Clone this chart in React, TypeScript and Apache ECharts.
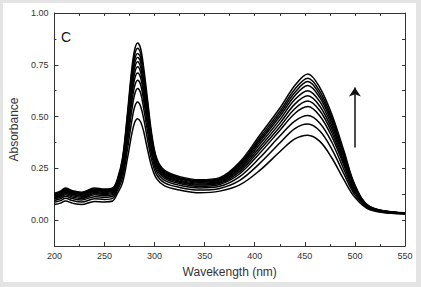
import React, { useEffect, useRef } from "react";
import * as echarts from "echarts";

const wavelengths = [200, 206, 211, 218, 227, 240, 250, 258, 263, 268, 273, 277, 280, 283, 286, 289, 293, 297, 302, 310, 325, 345, 365, 385, 405, 425, 440, 453, 465, 477, 489, 500, 515, 550];

const curve1 = [0.075, 0.082, 0.092, 0.082, 0.075, 0.090, 0.088, 0.092, 0.130, 0.180, 0.300, 0.410, 0.470, 0.490, 0.475, 0.430, 0.340, 0.260, 0.200, 0.165, 0.145, 0.132, 0.140, 0.170, 0.240, 0.330, 0.392, 0.410, 0.380, 0.300, 0.195, 0.110, 0.050, 0.030];
const curve2 = [0.086, 0.094, 0.105, 0.094, 0.087, 0.103, 0.100, 0.105, 0.144, 0.204, 0.344, 0.472, 0.545, 0.570, 0.550, 0.492, 0.388, 0.292, 0.220, 0.180, 0.158, 0.145, 0.153, 0.192, 0.274, 0.372, 0.442, 0.464, 0.430, 0.342, 0.223, 0.122, 0.053, 0.031];
const curve3 = [0.095, 0.103, 0.115, 0.104, 0.097, 0.113, 0.110, 0.115, 0.155, 0.223, 0.379, 0.522, 0.605, 0.635, 0.615, 0.542, 0.426, 0.318, 0.236, 0.192, 0.168, 0.155, 0.163, 0.210, 0.301, 0.406, 0.478, 0.505, 0.468, 0.376, 0.245, 0.132, 0.055, 0.032];
const curve4 = [0.102, 0.110, 0.123, 0.111, 0.104, 0.122, 0.118, 0.123, 0.164, 0.239, 0.408, 0.562, 0.645, 0.675, 0.655, 0.582, 0.458, 0.338, 0.249, 0.202, 0.177, 0.163, 0.172, 0.224, 0.323, 0.433, 0.515, 0.548, 0.503, 0.403, 0.264, 0.139, 0.057, 0.032];
const curve5 = [0.107, 0.116, 0.129, 0.117, 0.110, 0.128, 0.124, 0.129, 0.171, 0.250, 0.428, 0.590, 0.680, 0.710, 0.688, 0.610, 0.479, 0.353, 0.258, 0.209, 0.183, 0.169, 0.178, 0.234, 0.339, 0.450, 0.538, 0.575, 0.528, 0.422, 0.276, 0.145, 0.059, 0.033];
const curve6 = [0.111, 0.120, 0.134, 0.122, 0.115, 0.133, 0.129, 0.134, 0.176, 0.259, 0.445, 0.615, 0.708, 0.740, 0.715, 0.635, 0.498, 0.366, 0.266, 0.215, 0.188, 0.174, 0.183, 0.243, 0.352, 0.467, 0.560, 0.600, 0.550, 0.439, 0.287, 0.150, 0.060, 0.033];
const curve7 = [0.116, 0.125, 0.139, 0.126, 0.119, 0.138, 0.134, 0.139, 0.182, 0.269, 0.463, 0.639, 0.733, 0.765, 0.740, 0.659, 0.518, 0.378, 0.274, 0.221, 0.193, 0.179, 0.188, 0.251, 0.366, 0.484, 0.582, 0.625, 0.572, 0.455, 0.299, 0.154, 0.061, 0.034];
const curve8 = [0.120, 0.129, 0.143, 0.131, 0.124, 0.143, 0.138, 0.143, 0.187, 0.277, 0.478, 0.661, 0.754, 0.785, 0.763, 0.681, 0.534, 0.390, 0.281, 0.226, 0.198, 0.183, 0.193, 0.259, 0.378, 0.500, 0.601, 0.650, 0.591, 0.470, 0.308, 0.159, 0.062, 0.034];
const curve9 = [0.123, 0.132, 0.147, 0.134, 0.127, 0.147, 0.142, 0.147, 0.191, 0.284, 0.491, 0.680, 0.774, 0.805, 0.784, 0.700, 0.549, 0.399, 0.287, 0.230, 0.202, 0.187, 0.197, 0.266, 0.388, 0.513, 0.616, 0.669, 0.606, 0.483, 0.317, 0.162, 0.063, 0.034];
const curve10 = [0.126, 0.136, 0.151, 0.138, 0.131, 0.150, 0.146, 0.151, 0.195, 0.292, 0.505, 0.698, 0.796, 0.830, 0.805, 0.718, 0.563, 0.409, 0.293, 0.235, 0.205, 0.191, 0.200, 0.272, 0.398, 0.525, 0.632, 0.685, 0.622, 0.495, 0.325, 0.166, 0.064, 0.035];
const curve11 = [0.130, 0.140, 0.155, 0.142, 0.135, 0.155, 0.150, 0.155, 0.200, 0.300, 0.520, 0.720, 0.820, 0.855, 0.830, 0.740, 0.580, 0.420, 0.300, 0.240, 0.210, 0.195, 0.205, 0.280, 0.410, 0.540, 0.650, 0.706, 0.640, 0.510, 0.335, 0.170, 0.065, 0.035];

const curves = [curve1, curve2, curve3, curve4, curve5, curve6, curve7, curve8, curve9, curve10, curve11];

const yMajorTicks = [0, 0.25, 0.5, 0.75, 1];
const arrowWavelength = 500;
const arrowFrom = 0.35;
const arrowTo = 0.64;

const FONT = "'Liberation Sans', Arial, sans-serif";
const AXIS_COLOR = "#333";

export default function App() {
  const ref = useRef<HTMLDivElement>(null);
  useEffect(() => {
    if (!ref.current) return;
    const chart = echarts.init(ref.current, undefined, { renderer: "svg" });
    const series: any[] = curves.map((c, idx) => ({
      type: "line",
      xAxisIndex: 0,
      yAxisIndex: 0,
      data: wavelengths.map((w, i) => [w, c[i]]),
      showSymbol: false,
      smooth: 0.35,
      lineStyle: { color: "#000", width: 1.5 },
      silent: true,
      z: 3,
      markLine:
        idx === 0
          ? {
              silent: true,
              symbol: ["none", "arrow"],
              symbolSize: 9,
              lineStyle: { color: "#111", width: 1.5, type: "solid" },
              label: { show: false },
              data: [[{ coord: [arrowWavelength, arrowFrom] }, { coord: [arrowWavelength, arrowTo] }]],
            }
          : undefined,
    }));
    chart.setOption({
      animation: false,
      backgroundColor: "#e4e4e4",
      graphic: [
        {
          type: "rect",
          shape: { x: 3, y: 3, width: 413, height: 279 },
          style: { fill: "#ffffff" },
          silent: true,
          z: -10,
        },
        {
          type: "text",
          x: 61,
          y: 37,
          style: { text: "C", fontSize: 14, fontFamily: FONT, fill: "#111", verticalAlign: "middle" },
          silent: true,
          z: 10,
        },
      ],
      grid: { left: 49, right: 16, top: 13, bottom: 41, containLabel: false },
      xAxis: [
        {
          type: "value",
          position: "bottom",
          min: 200,
          max: 550,
          interval: 50,
          axisLine: { show: true, onZero: false, lineStyle: { color: AXIS_COLOR, width: 1 } },
          axisTick: { show: true, inside: true, length: 4, lineStyle: { color: AXIS_COLOR } },
          minorTick: { show: true, splitNumber: 2, length: 2, lineStyle: { color: AXIS_COLOR } },
          splitLine: { show: false },
          minorSplitLine: { show: false },
          axisLabel: { fontSize: 9, color: "#333", margin: 5, fontFamily: FONT },
          name: "Wavekength (nm)",
          nameLocation: "middle",
          nameGap: 20,
          nameTextStyle: { fontSize: 12, color: "#333", fontFamily: FONT },
        },
        {
          type: "value",
          position: "top",
          min: 200,
          max: 550,
          interval: 25,
          axisLine: { show: true, onZero: false, lineStyle: { color: AXIS_COLOR, width: 1 } },
          axisTick: { show: true, inside: true, length: 3, lineStyle: { color: AXIS_COLOR } },
          splitLine: { show: false },
          axisLabel: { show: false },
        },
      ],
      yAxis: [
        {
          type: "value",
          position: "left",
          min: -0.125,
          max: 1,
          interval: 0.125,
          axisLine: { show: true, onZero: false, lineStyle: { color: AXIS_COLOR, width: 1 } },
          axisTick: { show: true, inside: true, length: 2, lineStyle: { color: AXIS_COLOR } },
          splitLine: { show: false },
          axisLabel: {
            fontSize: 9,
            color: "#333",
            margin: 6,
            fontFamily: FONT,
            formatter: (v: number) => (Math.abs(v / 0.25 - Math.round(v / 0.25)) < 1e-6 ? v.toFixed(2) : ""),
          },
          name: "Absorbance",
          nameLocation: "middle",
          nameGap: 33,
          nameTextStyle: { fontSize: 12, color: "#333", fontFamily: FONT },
        },
        {
          type: "value",
          position: "left",
          min: -0.125,
          max: 1,
          axisLine: { show: false },
          axisTick: { show: true, inside: true, length: 4, customValues: yMajorTicks, lineStyle: { color: AXIS_COLOR } },
          splitLine: { show: false },
          axisLabel: { show: false },
        },
        {
          type: "value",
          position: "right",
          min: -0.125,
          max: 1,
          interval: 0.125,
          axisLine: { show: true, onZero: false, lineStyle: { color: AXIS_COLOR, width: 1 } },
          axisTick: { show: true, inside: true, length: 3, lineStyle: { color: AXIS_COLOR } },
          splitLine: { show: false },
          axisLabel: { show: false },
        },
      ],
      series,
    });
    return () => chart.dispose();
  }, []);
  return (
    <div style={{ position: "fixed", left: 0, top: 0, width: 421, height: 287 }}>
      <div ref={ref} style={{ width: 421, height: 287 }} />
    </div>
  );
}
